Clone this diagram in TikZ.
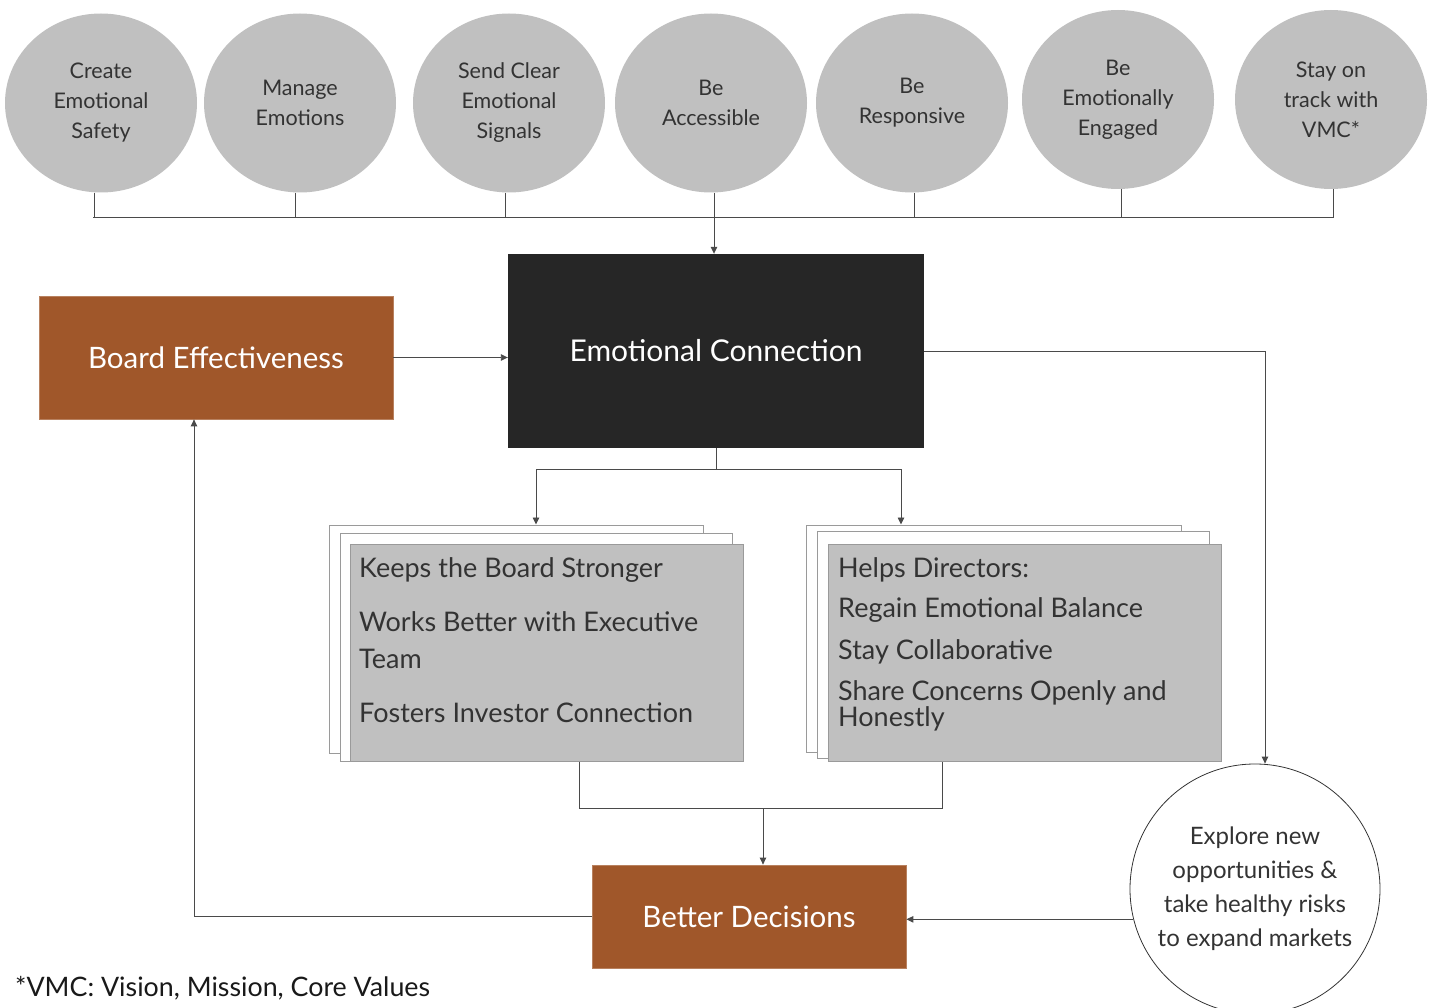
\documentclass[tikz,border=0pt]{standalone}
\usepackage{fontspec}
\setmainfont{Lato}
\usetikzlibrary{arrows.meta,shapes.geometric}

\definecolor{bubblegray}{HTML}{C0C0C0}
\definecolor{inktext}{HTML}{333333}
\definecolor{rust}{HTML}{A0572A}
\definecolor{coal}{HTML}{262626}
\definecolor{wiregray}{HTML}{4A4A4A}
\definecolor{edgegray}{HTML}{9A9A9A}

\begin{document}
\begin{tikzpicture}[x=1pt,y=-1pt,
  bubble/.style={ellipse, fill=bubblegray, minimum width=192pt, minimum height=179pt,
    inner sep=0pt, align=center, text=inktext, font=\fontsize{21.5}{30}\selectfont},
  wire/.style={draw=wiregray, line width=0.9pt},
  arr/.style={wire, -{Triangle[width=6.5pt,length=7pt]}},
  rustbox/.style={rectangle, fill=rust, draw=rust!75!white, line width=0.8pt,
    text=white, font=\fontsize{29.5}{34}\selectfont},
  sheet/.style={rectangle, draw=edgegray, line width=1pt, fill=white},
  frontsheet/.style={rectangle, draw=edgegray, line width=1pt, fill=bubblegray},
  item/.style={anchor=base west, inner sep=0pt, text=inktext, font=\fontsize{27}{30}\selectfont}]

\useasboundingbox (0,0) rectangle (1433,1008);

% top row of practices
\node[bubble] (c1) at (101,103) {Create\\Emotional\\Safety};
\node[bubble] (c2) at (300,103) {Manage\\Emotions};
\node[bubble] (c3) at (509,103) {Send Clear\\Emotional\\Signals};
\node[bubble] (c4) at (711,103) {Be\\Accessible};
\node[bubble] (c5) at (912,103) {Be\\Responsive};
\node[bubble] (c6) at (1118,99.5) {Be\\Emotionally\\Engaged};
\node[bubble] (c7) at (1331,99.5) {Stay on\\track with\\VMC*};

% collecting bus
\coordinate (busL) at (93,217);
\coordinate (busR) at (1334,217);
\draw[wire] (busL) -- (busR);
\foreach \n/\dx in {c1/-7,c2/-5,c3/-4,c4/3,c5/2,c6/3,c7/2}
  \draw[wire] ([xshift=\dx pt]\n.south) coordinate (tmp) -- (tmp |- busL);

% central block
\node[rectangle, fill=coal, minimum width=416pt, minimum height=194pt, text=white,
  font=\fontsize{30}{34}\selectfont] (ec) at (716,351) {Emotional Connection};
\coordinate (busmid) at (714,217);
\draw[arr] (busmid) -- (busmid |- ec.north);

% board effectiveness
\node[rustbox, minimum width=354pt, minimum height=123pt] (be) at (216,357.5) {Board Effectiveness};
\draw[arr] (be.east) -- (be.east -| ec.west);

% stacked sheets, left
\node[sheet, minimum width=374pt, minimum height=228pt] (kbBack) at (516,639) {};
\node[sheet, minimum width=392pt, minimum height=228pt] (kbMid) at (536,647) {};
\node[frontsheet, minimum width=393pt, minimum height=217pt] (kb) at (546.5,652.5) {};
\node[item] (k1) at (359,577) {Keeps the Board Stronger};
\node[item] (k2) at (359,631) {Works Better with Executive};
\node[item] (k3) at (359,668) {Team};
\node[item] (k4) at (359,722) {Fosters Investor Connection};

% stacked sheets, right
\node[sheet, minimum width=375pt, minimum height=227pt] (hdBack) at (993.5,638.5) {};
\node[sheet, minimum width=392pt, minimum height=227pt] (hdMid) at (1013,644.5) {};
\node[frontsheet, minimum width=393pt, minimum height=217pt] (hd) at (1024.5,652.5) {};
\node[item] (h1) at (838,577) {Helps Directors:};
\node[item] (h2) at (838,617) {Regain Emotional Balance};
\node[item] (h3) at (838,659) {Stay Collaborative};
\node[item] (h4) at (838,700) {Share Concerns Openly and};
\node[item] (h5) at (838,726) {Honestly};

% split below the central block
\coordinate (split) at (716,469);
\coordinate (sl) at (536,469);
\coordinate (sr) at (901,469);
\draw[wire] (ec.south) -- (split);
\draw[arr] (split) -- (sl) -- (sl |- kbBack.north);
\draw[arr] (split) -- (sr) -- (sr |- hdBack.north);

% outcome circle
\node[circle, draw=inktext, line width=0.8pt, minimum size=250pt, inner sep=0pt, align=center,
  text=inktext, font=\fontsize{24}{34}\selectfont] (ex) at (1255,889)
  {Explore new\\opportunities \&\\take healthy risks\\to expand markets};
\coordinate (ecr) at (1265,351);
\draw[arr] (ec.east) -- (ecr) -- (ecr |- ex.north);

% better decisions
\node[rustbox, minimum width=314pt, minimum height=103pt] (bd) at (749,916.5) {Better Decisions};
\coordinate (ml) at (579,808);
\coordinate (mr) at (942,808);
\coordinate (mj) at (763,808);
\draw[wire] (ml |- kb.south) -- (ml) -- (mr) -- (mr |- hd.south);
\draw[arr] (mj) -- (mj |- bd.north);
\draw[arr] (ex.194) -- (ex.194 -| bd.east);
\coordinate (bcol) at (194,0);
\draw[arr] (bd.west) -| (bcol |- be.south);

% footnote
\node[anchor=base west, inner sep=0pt, text=black!90, font=\fontsize{26.8}{30}\selectfont] (fn)
  at (15,996) {*VMC: Vision, Mission, Core Values};
\end{tikzpicture}
\end{document}
